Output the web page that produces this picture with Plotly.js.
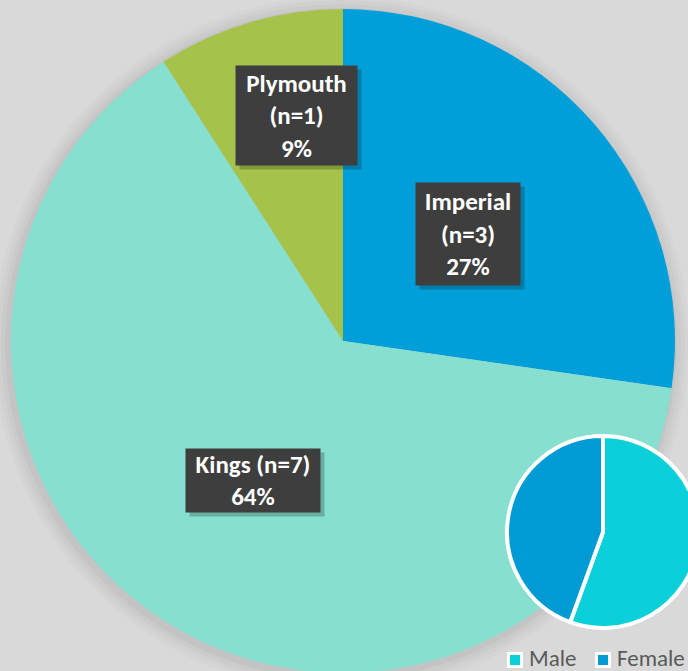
<!DOCTYPE html>
<html><head><meta charset="utf-8">
<script src="https://cdn.plot.ly/plotly-3.0.1.min.js"></script>
<style>html,body{margin:0;padding:0;overflow:hidden;background:#d9d9d9;}#chart{width:720px;height:690px;}</style>
</head><body><div id="chart"></div>
<script>
var campuses = ['Imperial', 'Kings', 'Plymouth'];
var campusCounts = [3, 7, 1];
var campusColors = ['#009fd9', '#87dfd0', '#a5c34b'];
var genders = ['Male', 'Female'];
var genderCounts = [5, 4];
var genderColors = ['#0bcfd9', '#009bd5'];

var W = 720, H = 690;
function px(x){return x / W;}
function py(y){return 1 - y / H;}

var total = campusCounts.reduce(function(a,b){return a+b;}, 0);
var pct = campusCounts.map(function(c){return Math.round(100*c/total) + '%';});

var big = {
  type: 'pie', labels: campuses, values: campusCounts, sort: false,
  direction: 'clockwise', rotation: 0, textinfo: 'none', hoverinfo: 'label+value+percent',
  marker: {colors: campusColors, line: {width: 0}},
  domain: {x: [px(11), px(675)], y: [py(673), py(9)]},
  showlegend: false
};
var small = {
  type: 'pie', labels: genders, values: genderCounts, sort: false,
  direction: 'clockwise', rotation: 0, textinfo: 'none',
  marker: {colors: genderColors, line: {width: 4, color: '#ffffff'}},
  domain: {x: [px(507), px(699)], y: [py(628), py(436)]},
  showlegend: false
};

var labelFont = {family: 'Carlito, Calibri, "Open Sans", sans-serif', size: 25, color: '#ffffff', weight: 'bold'};
var boxes = [
  {text: '<b>' + campuses[2] + '<br>(n=' + campusCounts[2] + ')<br>' + pct[2] + '</b>', x0: 236, x1: 357, y0: 66, y1: 165},
  {text: '<b>' + campuses[0] + '<br>(n=' + campusCounts[0] + ')<br>' + pct[0] + '</b>', x0: 416, x1: 520, y0: 183, y1: 285},
  {text: '<b>' + campuses[1] + ' (n=' + campusCounts[1] + ')<br>' + pct[1] + '</b>', x0: 186, x1: 320, y0: 449, y1: 512}
];
var annotations = [];
boxes.forEach(function(b){
  var cx = (b.x0 + b.x1) / 2, cy = (b.y0 + b.y1) / 2;
  annotations.push({xref: 'paper', yref: 'paper', x: px(cx), y: py(cy), xanchor: 'center', yanchor: 'middle',
    xshift: 4, yshift: -4, text: ' ', showarrow: false, width: b.x1 - b.x0, height: b.y1 - b.y0,
    bgcolor: 'rgba(0,0,0,0.22)', borderpad: 0});
  annotations.push({xref: 'paper', yref: 'paper', x: px(cx), y: py(cy), xanchor: 'center', yanchor: 'middle',
    text: b.text, showarrow: false, width: b.x1 - b.x0, height: b.y1 - b.y0,
    bgcolor: '#3e3e3e', borderpad: 0, font: labelFont, align: 'center'});
});

var shapes = [];
[[16, 0.015], [12, 0.02], [8, 0.025], [4, 0.03]].forEach(function(s){
  var r = 332 + s[0];
  shapes.push({type: 'circle', xref: 'paper', yref: 'paper', layer: 'below',
    x0: px(341 - r), x1: px(341 + r), y0: py(344 + r), y1: py(344 - r),
    fillcolor: 'rgba(0,0,0,' + s[1] + ')', line: {width: 0}});
});

// manual legend for the small pie
var legendX = [507, 595];
genders.forEach(function(g, i){
  var x0 = legendX[i];
  shapes.push({type: 'rect', xref: 'paper', yref: 'paper', layer: 'above',
    x0: px(x0 + 1.5), x1: px(x0 + 14.5), y0: py(666.5), y1: py(653.5),
    fillcolor: genderColors[i], line: {color: '#ffffff', width: 3}});
  annotations.push({xref: 'paper', yref: 'paper', x: px(x0 + 21), y: py(668), xanchor: 'left', yanchor: 'bottom',
    text: g, showarrow: false, borderpad: 0, yshift: -5,
    font: {family: 'Carlito, Calibri, "Open Sans", sans-serif', size: 23, color: '#595959'}});
});

var layout = {
  width: W, height: H, margin: {l: 0, r: 0, t: 0, b: 0},
  paper_bgcolor: '#d9d9d9', plot_bgcolor: '#d9d9d9',
  showlegend: false,
  annotations: annotations, shapes: shapes
};
Plotly.newPlot('chart', [big, small], layout, {displayModeBar: false, staticPlot: true});
</script></body></html>
